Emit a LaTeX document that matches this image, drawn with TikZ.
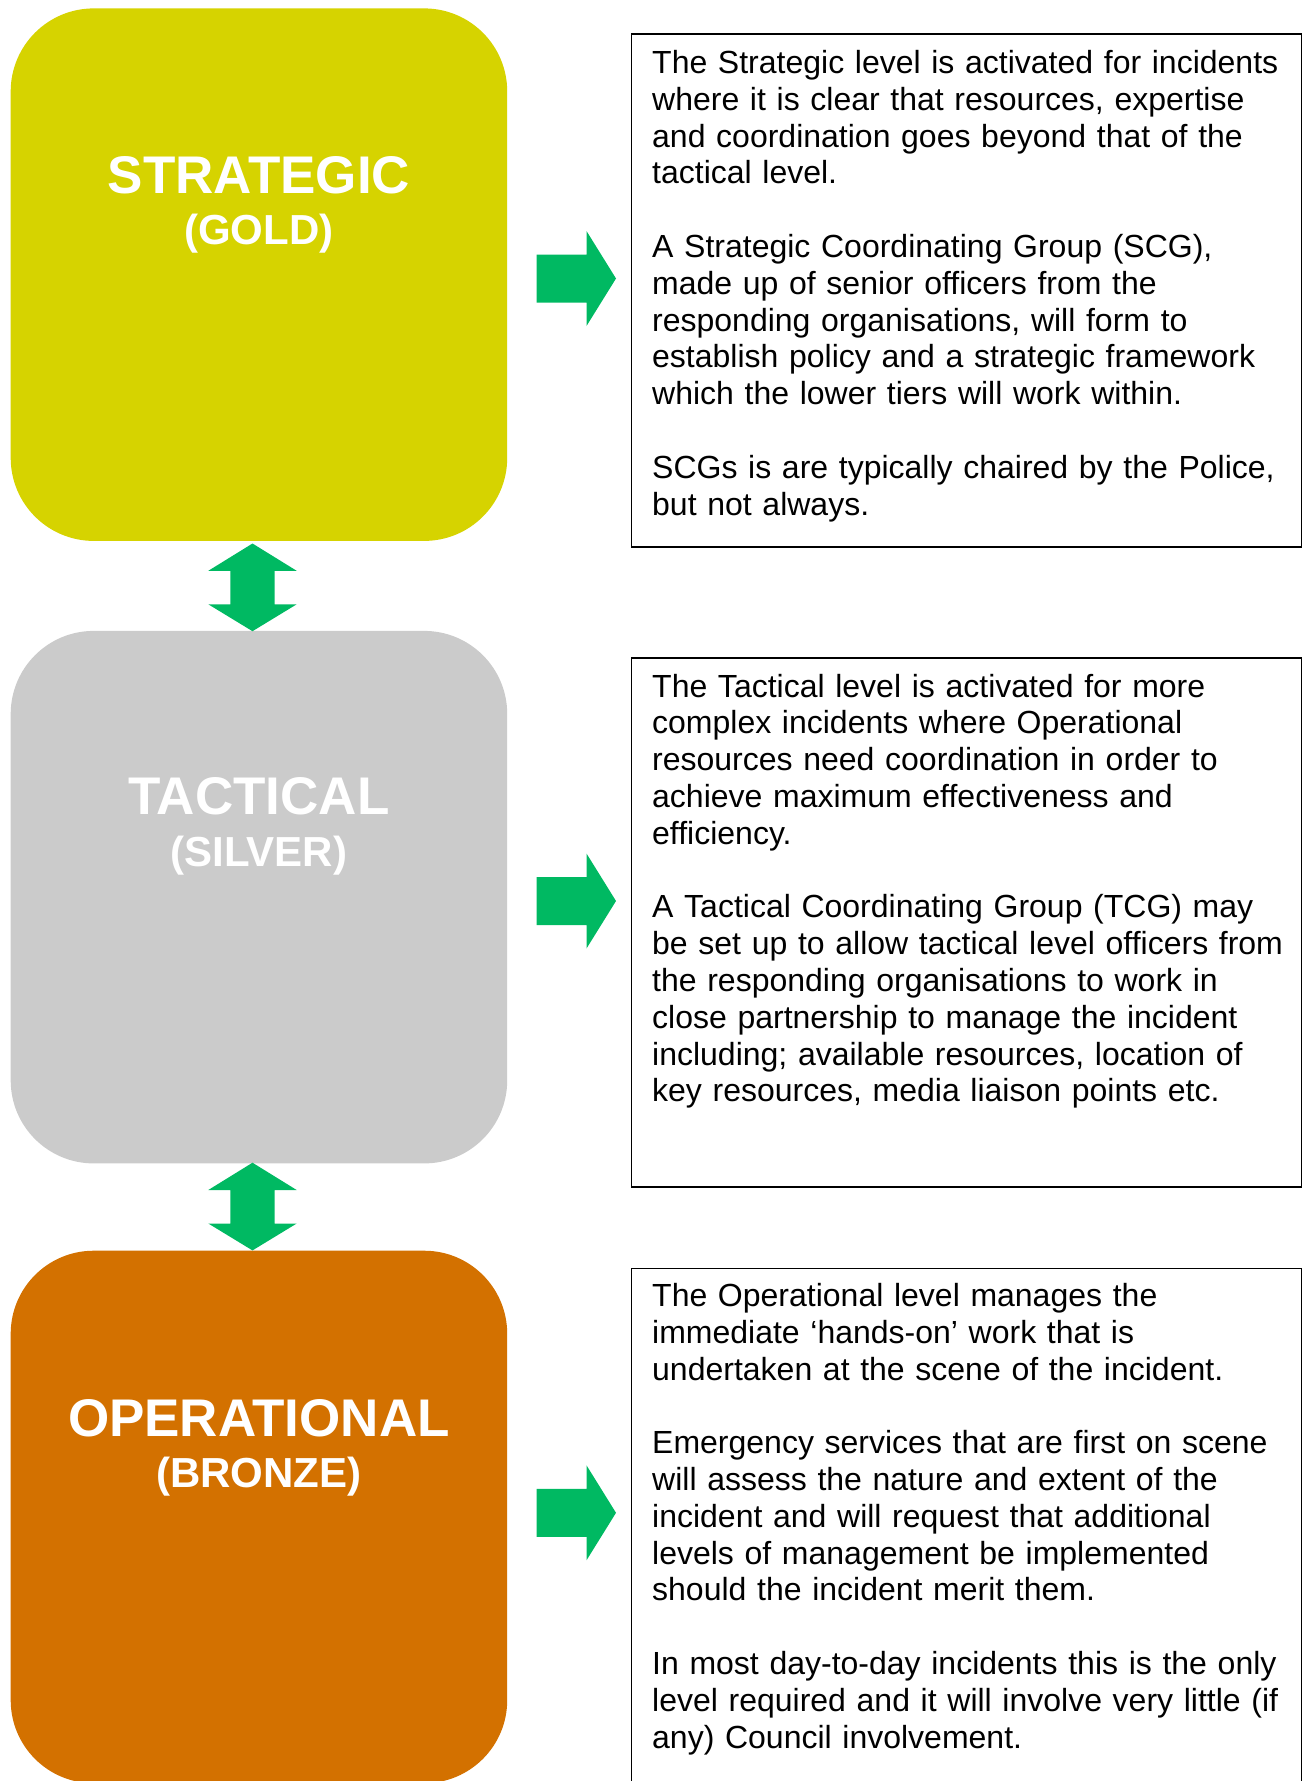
\documentclass[tikz,border=0pt]{standalone}
\usepackage{fontspec}
\setmainfont{Liberation Sans}[Ligatures=CommonOff]

\definecolor{goldfill}{RGB}{214,211,0}
\definecolor{silverfill}{RGB}{203,203,203}
\definecolor{bronzefill}{RGB}{211,113,0}
\definecolor{arrowgreen}{RGB}{0,185,98}

\begin{document}
\begin{tikzpicture}[x=1pt,y=-1pt,
  tier/.style={rounded corners=83pt, minimum width=496.5pt, minimum height=532.5pt,
               inner sep=0pt, anchor=north west, draw=none},
  tiername/.style={text=white, font=\bfseries\fontsize{53}{60}\selectfont,
                   anchor=base, inner sep=0pt},
  tiercolour/.style={text=white, font=\bfseries\fontsize{42}{48}\selectfont,
                     anchor=base, inner sep=0pt},
  descbox/.style={draw=black, line width=1.5pt, minimum width=670pt,
                  inner sep=0pt, anchor=north west},
  desctext/.style={font=\fontsize{32}{36.8}\selectfont, text width=645pt,
                   align=left, anchor=base west, inner sep=0pt},
  % green block arrow pointing right, origin at the tail centre
  rightarrow/.pic={\fill[arrowgreen] (0,-24) -- (50,-24) -- (50,-47.5) -- (79.5,0)
                    -- (50,47.5) -- (50,24) -- (0,24) -- cycle;},
  % green two-headed block arrow, origin at the upper tip
  updownarrow/.pic={\fill[arrowgreen] (0,0) -- (44.2,27.3) -- (22.2,27.3) -- (22.2,60.8)
                    -- (44.2,60.8) -- (0,87.7) -- (-44.2,60.8) -- (-22.2,60.8)
                    -- (-22.2,27.3) -- (-44.2,27.3) -- cycle;}
]
\path[use as bounding box, clip] (0,0) rectangle (1304,1781);

% the three command tiers
\node[tier, fill=goldfill]   (gold)   at (10.5,8.2)    {};
\node[tier, fill=silverfill] (silver) at (10.5,630.7)  {};
\node[tier, fill=bronzefill] (bronze) at (10.5,1250.5) {};

\node[tiername]   (goldname)     at ([yshift=-185pt]gold.north)     {STRATEGIC};
\node[tiercolour] (goldcolour)   at ([yshift=-236.5pt]gold.north)   {(GOLD)};
\node[tiername]   (silvername)   at ([yshift=-184pt]silver.north)   {TACTICAL};
\node[tiercolour] (silvercolour) at ([yshift=-235.7pt]silver.north) {(SILVER)};
\node[tiername]   (bronzename)   at ([yshift=-185.5pt]bronze.north) {OPERATIONAL};
\node[tiercolour] (bronzecolour) at ([yshift=-237.3pt]bronze.north) {(BRONZE)};

% links between tiers
\pic at (252.5,543.5)  {updownarrow};
\pic at (252.5,1162.7) {updownarrow};

% links from tiers to their descriptions
\pic at (536.5,278.5)  {rightarrow};
\pic at (536.5,901)    {rightarrow};
\pic at (536.5,1512.8) {rightarrow};

% description panels
\node[descbox, minimum height=512.7pt] (desc1) at (630.5,33.3)   {};
\node[descbox, minimum height=529.4pt] (desc2) at (630.5,657)    {};
\node[descbox, minimum height=560pt]   (desc3) at (630.5,1267.5) {};

\node[desctext] (text1) at ([shift={(21.5,40.2)}]desc1.north west) {%
The Strategic level is activated for incidents\\
where it is clear that resources, expertise\\
and coordination goes beyond that of the\\
tactical level.\\[36.8pt]
A Strategic Coordinating Group (SCG),\\
made up of senior officers from the\\
responding organisations, will form to\\
establish policy and a strategic framework\\
which the lower tiers will work within.\\[36.8pt]
SCGs is are typically chaired by the Police,\\
but not always.};

\node[desctext] (text2) at ([shift={(21.5,40)}]desc2.north west) {%
The Tactical level is activated for more\\
complex incidents where Operational\\
resources need coordination in order to\\
achieve maximum effectiveness and\\
efficiency.\\[36.8pt]
A Tactical Coordinating Group (TCG) may\\
be set up to allow tactical level officers from\\
the responding organisations to work in\\
close partnership to manage the incident\\
including; available resources, location of\\
key resources, media liaison points etc.};

\node[desctext] (text3) at ([shift={(21.5,39)}]desc3.north west) {%
The Operational level manages the\\
immediate ‘hands-on’ work that is\\
undertaken at the scene of the incident.\\[36.8pt]
Emergency services that are first on scene\\
will assess the nature and extent of the\\
incident and will request that additional\\
levels of management be implemented\\
should the incident merit them.\\[36.8pt]
In most day-to-day incidents this is the only\\
level required and it will involve very little (if\\
any) Council involvement.};
\end{tikzpicture}
\end{document}
